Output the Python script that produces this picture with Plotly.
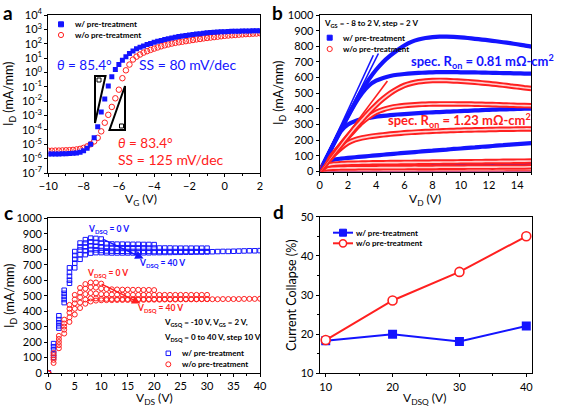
import plotly.graph_objects as go

W, H = 567, 410
BLUE = "#1414ff"
RED = "#ff2020"
PINK = "#ffd0d0"
FONT = "Lato"


def PX(x):
    return x / W


def PY(y):
    return 1 - y / H


# ---------------- panel a : transfer curves (log scale) ----------------
vg = [-10.0, -9.8, -9.6, -9.4, -9.2, -9.0, -8.8, -8.6, -8.4, -8.2,
      -8.0, -7.8, -7.6, -7.4, -7.2, -7.0, -6.8, -6.6, -6.4, -6.2,
      -6.0, -5.8, -5.6, -5.4, -5.2, -5.0, -4.8, -4.6, -4.4, -4.2,
      -4.0, -3.8, -3.6, -3.4, -3.2, -3.0, -2.8, -2.6, -2.4, -2.2,
      -2.0, -1.8, -1.6, -1.4, -1.2, -1.0, -0.8, -0.6, -0.4, -0.2,
      0.0, 0.2, 0.4, 0.6, 0.8, 1.0, 1.2, 1.4, 1.6, 1.8, 2.0]
# log10 of I_D (mA/mm)
log_id_w = [-5.68, -5.68, -5.67, -5.67, -5.66, -5.66, -5.65, -5.63, -5.60, -5.55,
            -5.45, -5.28, -5.00, -4.54, -3.78, -2.75, -1.85, -0.95, -0.30, 0.20,
            0.55, 0.85, 1.10, 1.32, 1.50, 1.65, 1.76, 1.85, 1.94, 2.02,
            2.10, 2.17, 2.23, 2.29, 2.35, 2.40, 2.45, 2.50, 2.54, 2.58,
            2.61, 2.64, 2.67, 2.70, 2.73, 2.76, 2.78, 2.80, 2.82, 2.83,
            2.84, 2.85, 2.86, 2.87, 2.875, 2.88, 2.885, 2.89, 2.895, 2.90, 2.91]
log_id_wo = [-5.45, -5.45, -5.44, -5.44, -5.43, -5.42, -5.41, -5.39, -5.36, -5.32,
             -5.25, -5.15, -5.00, -4.80, -4.55, -4.10, -3.50, -2.95, -2.40, -1.80,
             -1.20, -0.40, 0.15, 0.55, 0.90, 1.10, 1.25, 1.38, 1.48, 1.57,
             1.66, 1.74, 1.82, 1.89, 1.95, 2.01, 2.06, 2.10, 2.14, 2.18,
             2.22, 2.26, 2.30, 2.33, 2.37, 2.40, 2.43, 2.46, 2.49, 2.52,
             2.55, 2.57, 2.59, 2.61, 2.63, 2.65, 2.67, 2.68, 2.70, 2.71, 2.73]
log_ticks = [-7, -6, -5, -4, -3, -2, -1, 0, 1, 2, 3, 4]
log_tick_text = ["10<sup>-7</sup>", "10<sup>-6</sup>", "10<sup>-5</sup>", "10<sup>-4</sup>",
                 "10<sup>-3</sup>", "10<sup>-2</sup>", "10<sup>-1</sup>", "10<sup>0</sup>",
                 "10<sup>1</sup>", "10<sup>2</sup>", "10<sup>3</sup>", "10<sup>4</sup>"]

# ---------------- panel b : output curves ----------------
vd = [0, 0.5, 1, 1.5, 2, 2.5, 3, 3.5, 4, 4.5, 5, 5.5, 6, 6.5, 7, 7.5,
      8, 8.5, 9, 9.5, 10, 10.5, 11, 11.5, 12, 12.5, 13, 13.5, 14, 14.5, 15]
w_vgs_p2 = [0, 90, 180, 270, 355, 440, 520, 590, 650, 700, 740, 775, 805, 828, 843, 853,
            859, 862, 862, 860, 857, 853, 848, 843, 838, 832, 826, 820, 813, 806, 798]
w_vgs_0 = [0, 90, 180, 268, 352, 432, 500, 550, 580, 598, 610, 618, 623, 627, 630, 632,
           634, 635, 635, 635, 634, 634, 633, 632, 631, 630, 629, 628, 627, 626, 625]
w_vgs_m2 = [0, 89, 177, 258, 300, 322, 335, 343, 350, 355, 360, 364, 367, 370, 373, 376,
            378, 380, 382, 384, 386, 388, 390, 392, 394, 396, 397, 398, 400, 401, 402]
w_vgs_m4 = [0, 62, 76, 82, 87, 91, 95, 99, 103, 107, 111, 115, 119, 122, 126, 130,
            133, 137, 140, 144, 147, 151, 154, 158, 161, 165, 168, 172, 175, 178, 181]
w_vgs_m6 = [0, 18, 23, 25, 26, 27, 28, 29, 30, 30, 31, 32, 32, 33, 33, 34,
            34, 35, 35, 36, 36, 37, 37, 38, 38, 39, 39, 40, 40, 41, 41]
w_vgs_m8 = [0, 5, 6, 6, 7, 7, 7, 7, 8, 8, 8, 8, 8, 8, 9, 9,
            9, 9, 9, 9, 9, 10, 10, 10, 10, 10, 10, 10, 10, 11, 11]
wo_vgs_p2 = [0, 58, 115, 170, 225, 280, 330, 380, 425, 465, 500, 528, 550, 564, 573, 578,
             581, 582, 581, 579, 577, 574, 570, 566, 562, 557, 552, 546, 541, 535, 530]
wo_vgs_0 = [0, 57, 113, 168, 220, 270, 315, 350, 378, 396, 408, 416, 421, 425, 428, 430,
            431, 432, 432, 432, 431, 431, 430, 429, 428, 427, 425, 424, 422, 421, 420]
wo_vgs_m2 = [0, 55, 108, 150, 183, 203, 215, 223, 229, 234, 239, 243, 247, 250, 253, 255,
             257, 259, 261, 262, 264, 265, 266, 267, 268, 269, 270, 270, 271, 272, 272]
wo_vgs_m4 = [0, 38, 47, 50, 52, 53, 54, 55, 56, 56, 57, 57, 58, 58, 59, 59,
             60, 60, 61, 61, 62, 62, 63, 63, 64, 64, 65, 65, 66, 66, 67]
wo_vgs_m6 = [0, 18, 21, 22, 23, 23, 24, 24, 24, 25, 25, 25, 25, 26, 26, 26,
             26, 27, 27, 27, 27, 28, 28, 28, 28, 28, 29, 29, 29, 29, 30]
wo_vgs_m8 = [0, 6, 8, 8, 9, 9, 9, 9, 10, 10, 10, 10, 10, 10, 11, 11,
             11, 11, 11, 11, 12, 12, 12, 12, 12, 12, 12, 13, 13, 13, 13]
fit_w1_vd = [0, 3.8]
fit_w1_id = [0, 743]
fit_w2_vd = [0, 4.16]
fit_w2_id = [0, 754]
fit_wo_vd = [0, 4.8]
fit_wo_id = [0, 578]

# ---------------- panel c : pulsed I-V ----------------
vds_10 = [0, 1, 2, 3, 4, 5, 6, 7, 8, 9, 10]
vds_20 = [0, 1, 2, 3, 4, 5, 6, 7, 8, 9, 10, 11, 12, 13, 14, 15, 16, 17, 18, 19, 20]
vds_30 = [0, 1, 2, 3, 4, 5, 6, 7, 8, 9, 10, 11, 12, 13, 14, 15, 16, 17, 18, 19, 20,
          21, 22, 23, 24, 25, 26, 27, 28, 29, 30]
vds_40 = [0, 1, 2, 3, 4, 5, 6, 7, 8, 9, 10, 11, 12, 13, 14, 15, 16, 17, 18, 19, 20,
          21, 22, 23, 24, 25, 26, 27, 28, 29, 30, 31, 32, 33, 34, 35, 36, 37, 38, 39, 40]
w_q0 = [0, 190, 370, 535, 680, 785, 840, 862, 872, 870, 866]
w_q10 = [0, 170, 345, 515, 650, 760, 815, 840, 848, 845, 840, 835, 834, 833, 833, 832,
         832, 832, 831, 831, 830]
w_q20 = [0, 150, 325, 495, 625, 735, 795, 815, 822, 820, 816, 812, 811, 810, 810, 810,
         809, 809, 809, 808, 808, 808, 808, 808, 807, 807, 807, 807, 807, 807, 807]
w_q30 = [0, 125, 305, 475, 600, 710, 765, 790, 798, 796, 792, 789, 788, 787, 787, 786,
         786, 786, 786, 786, 785, 785, 785, 785, 785, 785, 785, 785, 785, 785, 785]
w_q40 = [0, 100, 290, 455, 580, 680, 735, 765, 775, 778, 778, 777, 776, 776, 776, 776,
         776, 776, 777, 777, 778, 778, 779, 779, 780, 780, 781, 781, 782, 782, 783,
         784, 785, 786, 786, 787, 788, 789, 790, 790, 791]
wo_q0 = [0, 130, 240, 345, 440, 505, 550, 575, 585, 585, 578]
wo_q10 = [0, 115, 220, 320, 415, 475, 520, 545, 555, 552, 546, 543, 541, 540, 539, 539,
          538, 538, 537, 537, 536]
wo_q20 = [0, 100, 200, 300, 390, 450, 490, 510, 517, 514, 510, 508, 507, 506, 506, 505,
          505, 505, 505, 505, 505, 505, 505, 505, 505, 505, 505, 505, 505, 505, 505]
wo_q30 = [0, 85, 180, 280, 360, 415, 455, 475, 482, 482, 480, 479, 478, 478, 478, 478,
          478, 478, 478, 478, 478, 478, 478, 478, 478, 478, 478, 478, 478, 478, 478]
wo_q40 = [0, 65, 160, 255, 330, 378, 420, 448, 462, 468, 470, 471, 471, 472, 472, 472,
          473, 473, 473, 474, 474, 474, 475, 475, 475, 476, 476, 476, 476, 477, 477,
          477, 477, 478, 478, 478, 478, 479, 479, 479, 480]
arrow_w_start = [10, 870]
arrow_w_end = [18, 740]
arrow_wo_start = [9.8, 579]
arrow_wo_end = [17.4, 450]

# ---------------- panel d : current collapse ----------------
vdsq = [10, 20, 30, 40]
cc_w = [18.3, 20.0, 18.1, 22.1]
cc_wo = [18.5, 28.6, 35.9, 45.0]

fig = go.Figure()

# panel a
fig.add_trace(go.Scatter(x=vg, y=[10 ** v for v in log_id_wo], mode="markers", xaxis="x", yaxis="y",
                         marker=dict(symbol="circle-open", size=5.5, color=RED, line=dict(width=1, color=RED))))
fig.add_trace(go.Scatter(x=vg, y=[10 ** v for v in log_id_w], mode="markers", xaxis="x", yaxis="y",
                         marker=dict(symbol="square", size=5, color=BLUE, line=dict(width=0))))

# panel b
for curve in [w_vgs_m8, w_vgs_m6, w_vgs_m4, w_vgs_m2, w_vgs_0, w_vgs_p2]:
    fig.add_trace(go.Scatter(x=vd, y=curve, mode="lines", xaxis="x2", yaxis="y2",
                             line=dict(color=BLUE, width=4.2, shape="spline", smoothing=0.6)))
for curve in [wo_vgs_m8, wo_vgs_m6, wo_vgs_m4, wo_vgs_m2, wo_vgs_0, wo_vgs_p2]:
    fig.add_trace(go.Scatter(x=vd, y=curve, mode="lines", xaxis="x2", yaxis="y2",
                             line=dict(color=RED, width=5.5, shape="spline", smoothing=0.6)))
    fig.add_trace(go.Scatter(x=vd, y=curve, mode="lines", xaxis="x2", yaxis="y2",
                             line=dict(color=PINK, width=1.6, shape="spline", smoothing=0.6)))
for fx, fy, col in [(fit_w1_vd, fit_w1_id, BLUE), (fit_w2_vd, fit_w2_id, BLUE), (fit_wo_vd, fit_wo_id, RED)]:
    fig.add_trace(go.Scatter(x=fx, y=fy, mode="lines", xaxis="x2", yaxis="y2",
                             line=dict(color=col, width=1.6)))

# panel c
for xs, ys in [(vds_10, w_q0), (vds_20, w_q10), (vds_30, w_q20), (vds_30, w_q30), (vds_40, w_q40)]:
    fig.add_trace(go.Scatter(x=xs, y=ys, mode="markers", xaxis="x3", yaxis="y3",
                             marker=dict(symbol="square-open", size=4.5, color=BLUE, line=dict(width=1, color=BLUE))))
for xs, ys in [(vds_10, wo_q0), (vds_20, wo_q10), (vds_30, wo_q20), (vds_30, wo_q30), (vds_40, wo_q40)]:
    fig.add_trace(go.Scatter(x=xs, y=ys, mode="markers", xaxis="x3", yaxis="y3",
                             marker=dict(symbol="circle-open", size=5, color=RED, line=dict(width=1, color=RED))))

# panel d
fig.add_trace(go.Scatter(x=vdsq, y=cc_w, mode="lines+markers", xaxis="x4", yaxis="y4",
                         line=dict(color=BLUE, width=2),
                         marker=dict(symbol="square", size=9, color=BLUE)))
fig.add_trace(go.Scatter(x=vdsq, y=cc_wo, mode="lines+markers", xaxis="x4", yaxis="y4",
                         line=dict(color=RED, width=2),
                         marker=dict(symbol="circle", size=9, color="white", line=dict(width=1.6, color=RED))))

tickfont = dict(family=FONT, size=11, color="black")
base_axis = dict(showline=True, linecolor="black", linewidth=1.2, mirror=True, ticks="outside",
                 ticklen=3, tickwidth=1, tickcolor="black", showgrid=False, zeroline=False,
                 tickfont=tickfont, automargin=False)


def ax(**kw):
    d = dict(base_axis)
    d.update(kw)
    return d


def minor(dt):
    return dict(ticks="outside", ticklen=2, tickcolor="black", dtick=dt, showgrid=False)


layout = dict(
    width=W, height=H, margin=dict(l=0, r=0, t=0, b=0, pad=0, autoexpand=False),
    paper_bgcolor="white", plot_bgcolor="white", showlegend=False,
    font=dict(family=FONT, color="black"),
    xaxis=ax(domain=[PX(48.3), PX(260)], anchor="y", range=[-10, 2], dtick=2, minor=minor(1)),
    yaxis=ax(domain=[PY(173), PY(15)], anchor="x", type="log", range=[-7, 4],
             tickvals=[10 ** t for t in log_ticks], ticktext=log_tick_text),
    xaxis2=ax(domain=[PX(319.7), PX(531.3)], anchor="y2", range=[0, 15], dtick=2, minor=minor(1)),
    yaxis2=ax(domain=[PY(171.5), PY(15)], anchor="x2", range=[0, 1000], dtick=100),
    xaxis3=ax(domain=[PX(48.3), PX(260)], anchor="y3", range=[0, 40], dtick=5, minor=minor(2.5)),
    yaxis3=ax(domain=[PY(373), PY(218.3)], anchor="x3", range=[0, 1000], dtick=100),
    xaxis4=ax(domain=[PX(319.7), PX(532.3)], anchor="y4", range=[9.1, 40.9], tickvals=vdsq, minor=minor(5)),
    yaxis4=ax(domain=[PY(373.3), PY(216.7)], anchor="x4", range=[10, 50], dtick=10, minor=minor(5)),
)
fig.update_layout(**layout)

ann = []


def text(x, y, s, size=8, color="black", xanchor="left", angle=0, bold=False):
    ann.append(dict(x=PX(x), y=PY(y), xref="paper", yref="paper", text=("<b>%s</b>" % s) if bold else s,
                    showarrow=False, xanchor=xanchor, yanchor="middle", textangle=angle,
                    font=dict(family=FONT, size=size, color=color)))


# panel letters
text(8, 12, "a", 19, xanchor="center", bold=True)
text(277, 12, "b", 19, xanchor="center", bold=True)
text(8, 212, "c", 19, xanchor="center", bold=True)
text(278, 211, "d", 19, xanchor="center", bold=True)

# axis titles
text(10, 94, "I<sub>D</sub> (mA/mm)", 12.5, xanchor="center", angle=-90)
text(141, 199, "V<sub>G</sub> (V)", 12, xanchor="center")
text(280, 93, "I<sub>D</sub> (mA/mm)", 12.5, xanchor="center", angle=-90)
text(425, 199, "V<sub>D</sub> (V)", 12, xanchor="center")
text(10, 296, "I<sub>D</sub> (mA/mm)", 12.5, xanchor="center", angle=-90)
text(154, 398, "V<sub>DS</sub> (V)", 12, xanchor="center")
text(291, 295, "Current Collapse (%)", 12.5, xanchor="center", angle=-90)
text(425, 398, "V<sub>DSQ</sub> (V)", 12, xanchor="center")

# panel a texts
text(72.7, 24.3, "w/ pre-treatment", 8, bold=True)
text(72.7, 35, "w/o pre-treatment", 8, bold=True)
text(55, 65, "<i>θ</i> = 85.4°", 13.5, color=BLUE)
text(137, 64, "SS = 80 mV/dec", 14, color=BLUE)
text(116, 143, "<i>θ</i> = 83.4°", 13.5, color=RED)
text(116, 159.5, "SS = 125 mV/dec", 14, color=RED)

# panel b texts
text(322, 23.3, "V<sub>GS</sub> = - 8 to 2 V, step = 2 V", 8, bold=True)
text(341, 37.7, "w/ pre-treatment", 8, bold=True)
text(341, 49, "w/o pre-treatment", 8, bold=True)
text(409, 61.7, "spec. R<sub>on</sub> = 0.81 mΩ-cm<sup>2</sup>", 13, color=BLUE, bold=True)
text(386, 120.7, "spec. R<sub>on</sub> = 1.23 mΩ-cm<sup>2</sup>", 13, color=RED, bold=True)

# panel c texts
text(108, 229, "V<sub>DSQ</sub> = 0 V", 8.5, color=BLUE, xanchor="center", bold=True)
text(162, 263, "V<sub>DSQ</sub> = 40 V", 8.5, color=BLUE, xanchor="center", bold=True)
text(107, 273, "V<sub>DSQ</sub> = 0 V", 8.5, color=RED, xanchor="center", bold=True)
text(160, 308, "V<sub>DSQ</sub> = 40 V", 8.5, color=RED, xanchor="center", bold=True)
text(162, 322.7, "V<sub>GSQ</sub> = -10 V, V<sub>GS</sub> = 2 V,", 8, bold=True)
text(162, 337.3, "V<sub>DSQ</sub> = 0 to 40 V, step 10 V", 8, bold=True)
text(180, 353.3, "w/ pre-treatment", 8, bold=True)
text(180, 364.3, "w/o pre-treatment", 8, bold=True)

# panel d texts
text(354, 232.7, "w/ pre-treatment", 8, bold=True)
text(354, 243.3, "w/o pre-treatment", 8, bold=True)

# arrows in panel c
for s, e, col in [(arrow_w_start, arrow_w_end, BLUE), (arrow_wo_start, arrow_wo_end, RED)]:
    ann.append(dict(x=e[0], y=e[1], ax=s[0], ay=s[1], xref="x3", yref="y3", axref="x3", ayref="y3",
                    text="", showarrow=True, arrowhead=2, arrowsize=1.2, arrowwidth=1.4, arrowcolor=col))

fig.update_layout(annotations=ann)

shapes = []


def rect(cx, cy, s, fill, line):
    shapes.append(dict(type="rect", xref="paper", yref="paper", x0=PX(cx - s / 2), x1=PX(cx + s / 2),
                       y0=PY(cy + s / 2), y1=PY(cy - s / 2), fillcolor=fill, line=dict(color=line, width=1)))


def circ(cx, cy, r, fill, line, lw=1):
    shapes.append(dict(type="circle", xref="paper", yref="paper", x0=PX(cx - r), x1=PX(cx + r),
                       y0=PY(cy + r), y1=PY(cy - r), fillcolor=fill, line=dict(color=line, width=lw)))


def seg(x0, y0, x1, y1, col, w):
    shapes.append(dict(type="line", xref="paper", yref="paper", x0=PX(x0), x1=PX(x1),
                       y0=PY(y0), y1=PY(y1), line=dict(color=col, width=w)))


def path(pts, w=2):
    d = "M " + " L ".join("%f,%f" % (PX(x), PY(y)) for x, y in pts) + " Z"
    shapes.append(dict(type="path", xref="paper", yref="paper", path=d, line=dict(color="black", width=w)))


# legend glyphs
rect(61, 24.3, 5, BLUE, BLUE)
circ(61, 35, 2.6, "white", RED)
rect(329.7, 37.7, 5, BLUE, BLUE)
circ(329.7, 49, 2.6, "white", RED)
rect(168.3, 353.3, 4.5, "white", BLUE)
circ(168.3, 364.3, 2.5, "white", RED)
seg(333, 232.7, 353, 232.7, BLUE, 2)
rect(343, 232.7, 7, BLUE, BLUE)
seg(333, 243.3, 353, 243.3, RED, 2)
circ(343, 243.3, 3.6, "white", RED, 1.5)

# slope triangles (panel a)
path([(95, 76), (105.5, 76), (95, 123)], 2)
shapes.append(dict(type="rect", xref="paper", yref="paper", x0=PX(97), x1=PX(101), y0=PY(82), y1=PY(78),
                   line=dict(color="black", width=1)))
path([(109.5, 130), (125, 130), (125, 86)], 2)
shapes.append(dict(type="rect", xref="paper", yref="paper", x0=PX(119.5), x1=PX(123.5), y0=PY(128), y1=PY(124),
                   line=dict(color="black", width=1)))

fig.update_layout(shapes=shapes)
# remove the browser's default 8px page margin so the 567x410 figure fills the window exactly
fig.write_html("out.html", config={"displayModeBar": False},
               post_script="document.body.style.margin='0px';document.body.style.overflow='hidden';")
